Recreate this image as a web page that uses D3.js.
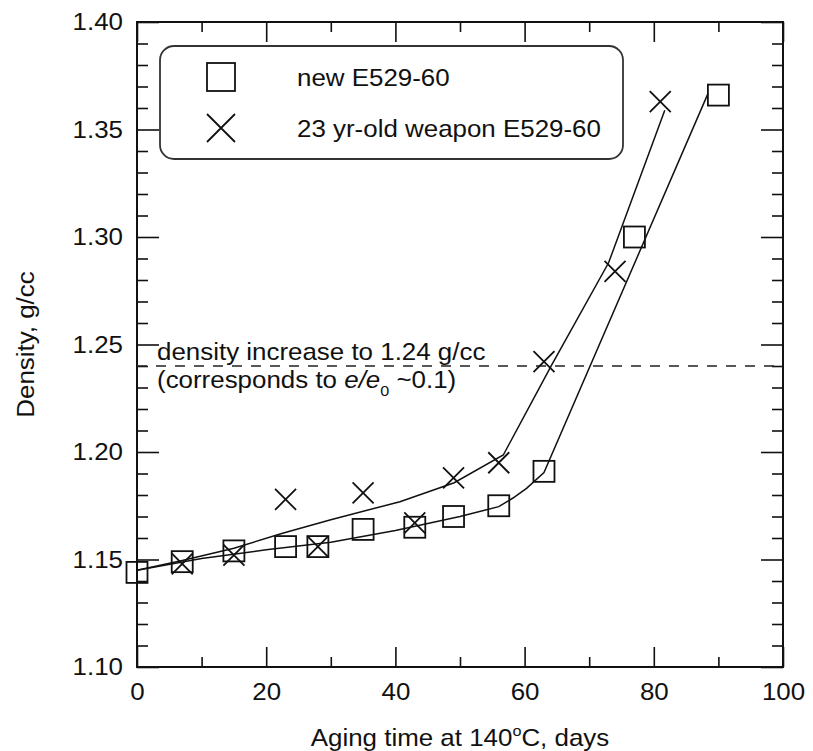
<!DOCTYPE html>
<html>
<head>
<meta charset="utf-8">
<script src="https://cdn.jsdelivr.net/npm/d3@7"></script>
<style>
  body { margin: 0; background: #fff; }
  svg text { font-family: "Liberation Sans", Arial, Helvetica, sans-serif; fill: #111; }
</style>
</head>
<body>
<svg id="chart"></svg>
<script>
// new E529-60 (squares)
const newDays = [0, 7, 15, 23, 28, 35, 43, 49, 56, 63, 77, 90];
const newDensity = [1.144, 1.149, 1.154, 1.156, 1.156, 1.164, 1.165, 1.170, 1.175, 1.191, 1.300, 1.366];

// 23 yr-old weapon E529-60 (crosses)
const oldDays = [7, 15, 23, 28, 35, 43, 49, 56, 63, 74, 81];
const oldDensity = [1.148, 1.152, 1.178, 1.156, 1.181, 1.167, 1.188, 1.195, 1.242, 1.284, 1.363];

// fitted curves
const newFitDays = [0, 10, 20, 30, 40, 50, 56, 58.2, 60.3, 63, 88.4];
const newFitDensity = [1.145, 1.1505, 1.1545, 1.158, 1.1635, 1.170, 1.1746, 1.1786, 1.1831, 1.1904, 1.3668];
const oldFitDays = [0, 7, 15, 22.4, 30, 40.7, 49.1, 56.7, 64.2, 73, 81.7];
const oldFitDensity = [1.145, 1.1495, 1.1552, 1.1621, 1.1685, 1.1769, 1.1857, 1.1986, 1.2405, 1.288, 1.359];

const xMajor = [0, 20, 40, 60, 80, 100];
const xMinor = [10, 30, 50, 70, 90];
const yMajor = [1.10, 1.15, 1.20, 1.25, 1.30, 1.35, 1.40];
const threshold = 1.24;

const legendLabels = ["new E529-60", "23 yr-old weapon E529-60"];

const width = 813, height = 751;
const margin = {top: 22, right: 30, bottom: 84, left: 137};
const fontSize = 24, stretch = 1.08;

const svg = d3.select("#chart").attr("width", width).attr("height", height);

const x = d3.scaleLinear().domain([0, 100]).range([margin.left, width - margin.right]);
const y = d3.scaleLinear().domain([1.10, 1.40]).range([height - margin.bottom, margin.top]);

// text is a bit wider than the font in the original
function widen(sel) {
    sel.each(function () {
        const t = d3.select(this);
        const tx = +t.attr("x") || 0;
        t.attr("x", 0).attr("transform", `translate(${tx},0) scale(${stretch},1)`);
    });
}

// minor ticks
const yMinor = d3.range(1.10, 1.4001, 0.01).filter(v => !yMajor.some(m => Math.abs(m - v) < 1e-6));

function drawAxis(axis, tx, ty, labels) {
    const g = svg.append("g").attr("transform", `translate(${tx},${ty})`).call(axis);
    g.select(".domain").remove();
    g.selectAll("line").attr("stroke", "#111").attr("stroke-width", 1.6);
    if (!labels) g.selectAll("text").remove();
    else g.selectAll("text").style("font-size", fontSize + "px").call(widen);
    return g;
}

const plotBottom = height - margin.bottom, plotTop = margin.top;
const plotLeft = margin.left, plotRight = width - margin.right;

drawAxis(d3.axisBottom(x).tickValues(xMajor).tickSize(-20).tickPadding(16).tickFormat(d3.format("d")), 0, plotBottom, true);
drawAxis(d3.axisBottom(x).tickValues(xMinor).tickSize(-10), 0, plotBottom, false);
drawAxis(d3.axisTop(x).tickValues(xMajor).tickSize(-20), 0, plotTop, false);
drawAxis(d3.axisTop(x).tickValues(xMinor).tickSize(-10), 0, plotTop, false);
drawAxis(d3.axisLeft(y).tickValues(yMajor).tickSize(-22).tickPadding(14).tickFormat(d3.format(".2f")), plotLeft, 0, true);
drawAxis(d3.axisLeft(y).tickValues(yMinor).tickSize(-11), plotLeft, 0, false);
drawAxis(d3.axisRight(y).tickValues(yMajor).tickSize(-22), plotRight, 0, false);
drawAxis(d3.axisRight(y).tickValues(yMinor).tickSize(-11), plotRight, 0, false);

// frame
svg.append("rect")
    .attr("x", plotLeft).attr("y", plotTop)
    .attr("width", plotRight - plotLeft).attr("height", plotBottom - plotTop)
    .attr("fill", "none").attr("stroke", "#111").attr("stroke-width", 2);

// threshold line
svg.append("line")
    .attr("x1", plotLeft).attr("x2", plotRight)
    .attr("y1", y(threshold)).attr("y2", y(threshold))
    .attr("stroke", "#222").attr("stroke-width", 1.5)
    .attr("stroke-dasharray", "10,9");

svg.append("text").attr("x", 157).attr("y", 360).style("font-size", fontSize + "px")
    .text("density increase to 1.24 g/cc").call(widen);
const note2 = svg.append("text").attr("x", 157).attr("y", 388).style("font-size", fontSize + "px");
note2.append("tspan").text("(corresponds to ");
note2.append("tspan").style("font-style", "italic").text("e/e");
note2.append("tspan").attr("dy", 8).style("font-size", "15px").text("0");
note2.append("tspan").attr("dy", -8).text(" ~0.1)");
note2.call(widen);

// fit lines
const line = d3.line().x(d => x(d[0])).y(d => y(d[1]));
[[newFitDays, newFitDensity], [oldFitDays, oldFitDensity]].forEach(([ds, vs]) => {
    svg.append("path")
        .datum(ds.map((d, i) => [d, vs[i]]))
        .attr("d", line)
        .attr("fill", "none").attr("stroke", "#111").attr("stroke-width", 1.5);
});

// markers
function square(g, cx, cy, s) {
    g.append("rect").attr("x", cx - s / 2).attr("y", cy - s / 2)
        .attr("width", s).attr("height", s)
        .attr("fill", "none").attr("stroke", "#111").attr("stroke-width", 1.8);
}
function cross(g, cx, cy, s) {
    const h = s / 2;
    g.append("path")
        .attr("d", `M${cx - h},${cy - h}L${cx + h},${cy + h}M${cx - h},${cy + h}L${cx + h},${cy - h}`)
        .attr("fill", "none").attr("stroke", "#111").attr("stroke-width", 1.8);
}

const marks = svg.append("g");
newDays.forEach((d, i) => square(marks, x(d), y(newDensity[i]), 21));
oldDays.forEach((d, i) => cross(marks, x(d), y(oldDensity[i]), 21));

// legend
const lg = svg.append("g");
lg.append("rect")
    .attr("x", 160).attr("y", 46).attr("width", 463).attr("height", 113)
    .attr("rx", 14).attr("ry", 14)
    .attr("fill", "#fff").attr("stroke", "#333").attr("stroke-width", 1.8);
square(lg, 221, 77, 28);
cross(lg, 221, 128, 28);
lg.append("text").attr("x", 297).attr("y", 86).style("font-size", fontSize + "px").text(legendLabels[0]).call(widen);
lg.append("text").attr("x", 297).attr("y", 137).style("font-size", fontSize + "px").text(legendLabels[1]).call(widen);

// axis titles
const xt = svg.append("text")
    .attr("x", (plotLeft + plotRight) / 2).attr("y", 746)
    .attr("text-anchor", "middle").style("font-size", fontSize + "px");
xt.append("tspan").text("Aging time at 140");
xt.append("tspan").attr("dy", -10).style("font-size", "15px").text("o");
xt.append("tspan").attr("dy", 10).text("C, days");
xt.call(widen);

svg.append("text")
    .attr("transform", `translate(34,${(plotTop + plotBottom) / 2}) rotate(-90) scale(${stretch},1)`)
    .attr("text-anchor", "middle").style("font-size", fontSize + "px")
    .text("Density, g/cc");
</script>
</body>
</html>
